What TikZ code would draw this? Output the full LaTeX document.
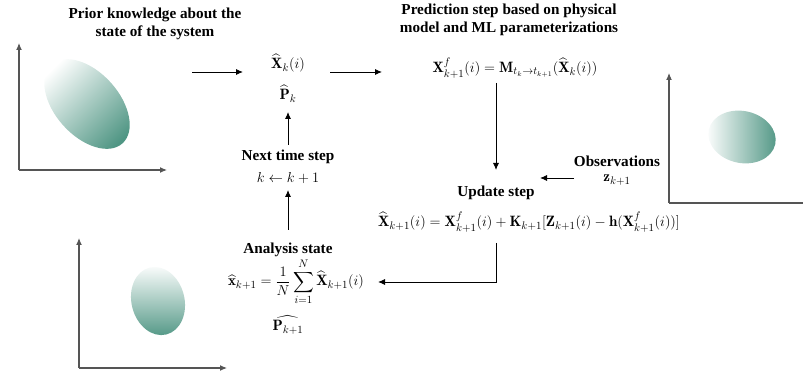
\documentclass[tikz,border=0pt]{standalone}
\usepackage{amsmath}
\usepackage{fontspec}
\newfontfamily\headfont{Liberation Serif}
\usetikzlibrary{arrows.meta}
\definecolor{teal1}{RGB}{80,150,132}
\definecolor{axisgray}{RGB}{85,85,85}
\tikzset{
  arr/.style={-{Latex[length=7pt,width=6pt]}, line width=0.9pt, black},
  axisline/.style={-{Latex[length=7pt,width=6pt]}, line width=1.1pt, axisgray},
  head/.style={font=\headfont\bfseries\fontsize{15.2}{18.5}\selectfont, align=center, inner sep=0pt},
  mth/.style={font=\fontsize{15}{18}\selectfont, inner sep=0pt},
}
\begin{document}
\begin{tikzpicture}[x=1pt,y=1pt]
\useasboundingbox (0,0) rectangle (803,375);
% ---- plots ----
\draw[axisline] (19,205) -- (19,332);
\draw[axisline] (19,205) -- (167,205);
\shade[top color=white, bottom color=teal1, shading angle=45, rotate around={-48:(87,271)}]
  (87,271) ellipse [x radius=53, y radius=32];
\draw[axisline] (669,172) -- (669,302);
\draw[axisgray, line width=1.1pt] (669,172) -- (803,172);
\shade[left color=white, right color=teal1, rotate around={-12:(742,238)}]
  (742,238) ellipse [x radius=34, y radius=26];
\draw[axisline] (79,7) -- (79,137);
\draw[axisline] (79,7) -- (227,7);
\shade[top color=white, bottom color=teal1, rotate around={14:(158,74)}]
  (158,74) ellipse [x radius=26.5, y radius=34.5];
% ---- texts ----
\node[head] (h1) at (155,351) {Prior knowledge about the\\state of the system};
\node[head] (h2) at (509,355) {Prediction step based on physical\\model and ML parameterizations};
\node[mth] (xk) at (288,312) {$\widehat{\mathbf{X}}_k(i)$};
\node[mth] (pk) at (288,281) {$\widehat{\mathbf{P}}_k$};
\node[head] (nts) at (288,218) {Next time step};
\node[mth] (kk) at (288,197) {$k \leftarrow k+1$};
\node[mth] (pred) at (515,307) {$\mathbf{X}^f_{k+1}(i) = \mathbf{M}_{t_k\rightarrow t_{k+1}}(\widehat{\mathbf{X}}_k(i))$};
\node[head] (obs) at (617,214) {Observations};
\node[mth] (zk) at (617,195) {$\mathbf{z}_{k+1}$};
\node[head] (upd) at (496,182) {Update step};
\node[mth] (updeq) at (529,153) {$\widehat{\mathbf{X}}_{k+1}(i) = \mathbf{X}^f_{k+1}(i) + \mathbf{K}_{k+1}[\mathbf{Z}_{k+1}(i) - \mathbf{h}(\mathbf{X}^f_{k+1}(i))]$};
\node[head] (ana) at (288,125) {Analysis state};
\node[mth] (anaeq) at (296,93) {$\widehat{\mathbf{x}}_{k+1} = \dfrac{1}{N}\displaystyle\sum_{i=1}^{N} \widehat{\mathbf{X}}_{k+1}(i)$};
\node[mth] (pk1) at (288,50) {$\widehat{\mathbf{P}_{k+1}}$};
% ---- connectors ----
\coordinate (a1s) at (192,303);
\coordinate (a1e) at (243,303);
\coordinate (a2s) at (330,303);
\coordinate (a2e) at (382,303);
\coordinate (a3s) at (288,230);
\coordinate (a3e) at (288,263);
\coordinate (a4s) at (288,145);
\coordinate (a4e) at (288,185);
\coordinate (a5s) at (496,292);
\coordinate (a5e) at (496,205);
\coordinate (a6s) at (574,197);
\coordinate (a6e) at (540,197);
\coordinate (a7s) at (496,132);
\coordinate (a7c) at (496,93);
\coordinate (a7e) at (378,93);
\draw[arr] (a1s) -- (a1e);
\draw[arr] (a2s) -- (a2e);
\draw[arr] (a3s) -- (a3e);
\draw[arr] (a4s) -- (a4e);
\draw[arr] (a5s) -- (a5e);
\draw[arr] (a6s) -- (a6e);
\draw[arr] (a7s) -- (a7c) -- (a7e);
\end{tikzpicture}
\end{document}
